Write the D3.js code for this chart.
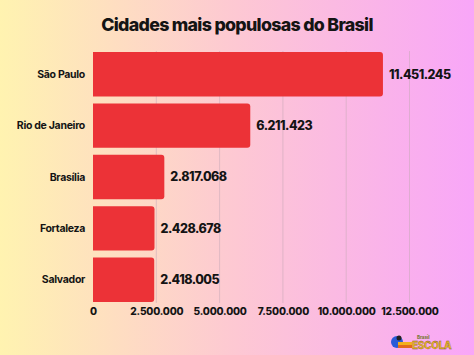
<!DOCTYPE html>
<html><head><meta charset="utf-8">
<script src="https://cdn.jsdelivr.net/npm/d3@7"></script>
<style>html,body{margin:0;padding:0;}svg{display:block;}</style>
</head><body>
<script>
const categories = ["São Paulo","Rio de Janeiro","Brasília","Fortaleza","Salvador"];
const values = [11451245, 6211423, 2817068, 2428678, 2418005];
const valueLabels = ["11.451.245","6.211.423","2.817.068","2.428.678","2.418.005"];
const tickValues = [0, 2500000, 5000000, 7500000, 10000000, 12500000];
const tickLabels = ["0","2.500.000","5.000.000","7.500.000","10.000.000","12.500.000"];
const title = "Cidades mais populosas do Brasil";

const W = 474, H = 355;
const svg = d3.select("body").append("svg").attr("width", W).attr("height", H);
const defs = svg.append("defs");
const g = defs.append("linearGradient").attr("id","bg").attr("x1","0").attr("x2","1").attr("y1","0").attr("y2","0");
g.append("stop").attr("offset","0%").attr("stop-color","#fff3b0");
g.append("stop").attr("offset","50%").attr("stop-color","#fdc8d3");
g.append("stop").attr("offset","100%").attr("stop-color","#f8a6f8");
svg.append("rect").attr("width",W).attr("height",H).attr("fill","url(#bg)");

const font = "Inter, 'DejaVu Sans', sans-serif";
svg.append("text").attr("x",237).attr("y",31).attr("text-anchor","middle")
  .attr("font-family",font).attr("font-weight",800).attr("font-size",17.8)
  .attr("letter-spacing","-0.7").attr("fill","#141414").text(title);

const x = d3.scaleLinear().domain([0,12500000]).range([93,409.5]);
const y = d3.scaleBand().domain(categories).range([51,303]).paddingInner(0.135).paddingOuter(0.02);

// gridlines
svg.append("g").selectAll("line").data(tickValues.slice(1)).join("line")
  .attr("x1",d=>x(d)).attr("x2",d=>x(d)).attr("y1",51).attr("y2",303)
  .attr("stroke","#c9a9b8").attr("stroke-opacity",0.55).attr("stroke-width",1);

// bars with rounded right corners
const r = 3;
svg.append("g").selectAll("path").data(categories).join("path")
  .attr("fill","#ec3237")
  .attr("d",(d,i)=>{
    const x0 = x(0), x1 = x(values[i]), y0 = y(d), h = y.bandwidth();
    return `M${x0},${y0}H${x1-r}Q${x1},${y0} ${x1},${y0+r}V${y0+h-r}Q${x1},${y0+h} ${x1-r},${y0+h}H${x0}Z`;
  });

// category labels
svg.append("g").selectAll("text").data(categories).join("text")
  .attr("x",85).attr("y",d=>y(d)+y.bandwidth()/2).attr("dy","0.35em")
  .attr("text-anchor","end").attr("font-family",font).attr("font-weight",700)
  .attr("font-size",10.5).attr("letter-spacing","-0.3").attr("fill","#141414").text(d=>d);

// value labels
svg.append("g").selectAll("text").data(categories).join("text")
  .attr("x",(d,i)=>x(values[i])+6).attr("y",d=>y(d)+y.bandwidth()/2).attr("dy","0.35em")
  .attr("font-family",font).attr("font-weight",800)
  .attr("font-size",12.5).attr("letter-spacing","-0.5").attr("fill","#141414").text((d,i)=>valueLabels[i]);

// x axis
const axis = d3.axisBottom(x).tickValues(tickValues).tickFormat((d,i)=>tickLabels[i]).tickSize(0).tickPadding(0);
const ax = svg.append("g").attr("transform","translate(0,308)").call(axis);
ax.select(".domain").remove();
ax.selectAll("text").attr("font-family",font).attr("font-weight",800).attr("font-size",10.2)
  .attr("letter-spacing","-0.2").attr("fill","#141414").attr("dy","0.71em");

// logo
const logo = svg.append("g").attr("transform","translate(390,333)");
logo.append("circle").attr("cx",7).attr("cy",9).attr("r",6).attr("fill","#2a5bd7");
logo.append("circle").attr("cx",9).attr("cy",5).attr("r",2.5).attr("fill","#222");
logo.append("rect").attr("x",8).attr("y",9).attr("width",14).attr("height",3).attr("fill","#f2b01e");
logo.append("rect").attr("x",8).attr("y",12).attr("width",14).attr("height",3).attr("fill","#e26a1c");
logo.append("text").attr("x",27).attr("y",6).attr("font-family",font).attr("font-weight",800)
  .attr("font-size",4.5).attr("fill","#7b7a3a").text("Brasil");
logo.append("text").attr("x",22).attr("y",15.5).attr("font-family",font).attr("font-weight",800)
  .attr("font-size",10).attr("letter-spacing","-0.3").attr("fill","#e7b52a").attr("stroke","#7a5a1a").attr("stroke-width",0.3).text("ESCOLA");
</script>
</body></html>
